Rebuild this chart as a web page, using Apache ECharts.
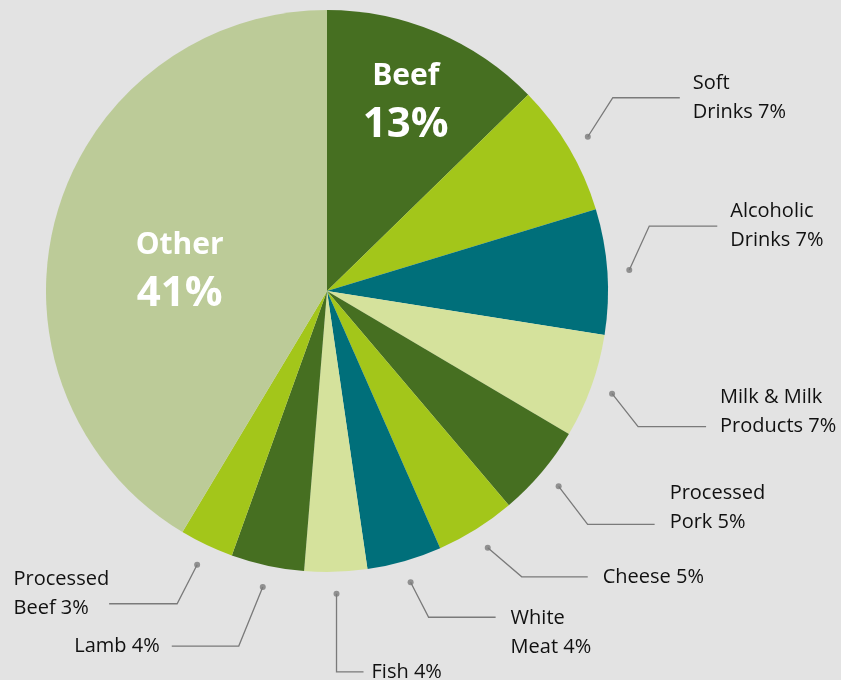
<!DOCTYPE html>
<html>
<head>
<meta charset="utf-8">
<script src="https://cdn.jsdelivr.net/npm/echarts@6/dist/echarts.min.js"></script>
<style>
html,body{margin:0;padding:0;background:#e3e3e3;}
#chart{width:841px;height:680px;}
</style>
</head>
<body>
<div id="chart"></div>
<script>
// ---- data ----
const categories = ['Beef','Soft Drinks','Alcoholic Drinks','Milk & Milk Products','Processed Pork','Cheese','White Meat','Fish','Lamb','Processed Beef','Other'];
const labelNames = ['Beef','Soft\nDrinks','Alcoholic\nDrinks','Milk & Milk\nProducts','Processed\nPork','Cheese','White\nMeat','Fish','Lamb','Processed\nBeef','Other'];
const shares = [12.7, 7.6, 7.2, 6.0, 5.3, 4.6, 4.3, 3.6, 4.2, 3.1, 41.4];
const shareLabels = ['13%','7%','7%','7%','5%','5%','4%','4%','4%','3%','41%'];

// ---- styling / layout ----
const COLORS = ['#466f21','#a3c61a','#006f7a','#d5e29c','#466f21','#a3c61a','#006f7a','#d5e29c','#466f21','#a3c61a','#bccb98'];
const CX = 327, CY = 291, R = 281, R_DOT = 303;
const FONT = "'Open Sans', 'Noto Sans', sans-serif";
const innerShift = [[23,-56],null,null,null,null,null,null,null,null,null,[-9,19]];
const leaderBend = [null,[25,-39],[20,-44],[26,33],[29,38],[34,29],[18,35],[0,78],[-24,59],[-20,39],null];
const leaderLen  = [0,67,68,68,67,66,67,27,67,68,0];
const labelSide  = [0,1,1,1,1,1,1,1,-1,-1,0];
const textGap    = [0,13,13,14,15,15,15,8,12,0,0];
const textShiftY = [0,0,0,-15,-17,0,16,0,0,-10,0];
const leftBlock  = [false,false,false,false,false,false,false,false,false,true,false];

const total = shares.reduce((a,b)=>a+b,0);
const mids = [];
let acc = 0;
shares.forEach(v => { mids.push(acc + v/2); acc += v; });

const chart = echarts.init(document.getElementById('chart'), null, {renderer:'canvas'});
chart.setOption({
  backgroundColor: '#e3e3e3',
  animation: false,
  polar: { center: [CX, CY], radius: R_DOT },
  angleAxis: { type:'value', min:0, max: total, startAngle: 90, clockwise: true, show:false },
  radiusAxis: { type:'value', min:0, max:1, show:false },
  series: [
    {
      type: 'pie',
      center: [CX, CY],
      radius: R,
      startAngle: 90,
      clockwise: true,
      avoidLabelOverlap: false,
      silent: true,
      emphasis: { disabled: true },
      data: categories.map((c,i)=>({
        name: c, value: shares[i],
        itemStyle: { color: COLORS[i] },
        label: { show: innerShift[i] != null }
      })),
      label: {
        position: 'inside',
        formatter: p => '{n|' + labelNames[p.dataIndex] + '}\n{p|' + shareLabels[p.dataIndex] + '}',
        rich: {
          n: { fontFamily: FONT, fontWeight: 'bold', fontSize: 30, color: '#ffffff', lineHeight: 44, align:'center' },
          p: { fontFamily: FONT, fontWeight: 'bold', fontSize: 42, color: '#ffffff', lineHeight: 52, align:'center' }
        }
      },
      labelLine: { show: false },
      labelLayout: p => {
        const s = innerShift[p.dataIndex];
        return s ? { dx: s[0], dy: s[1] } : {};
      }
    },
    {
      type: 'pie',
      center: [CX, CY],
      radius: R_DOT,
      startAngle: 90,
      clockwise: true,
      avoidLabelOverlap: false,
      silent: true,
      z: 1,
      emphasis: { disabled: true },
      itemStyle: { color: 'rgba(0,0,0,0)' },
      data: categories.map((c,i)=>({
        name: c, value: shares[i],
        label: { show: leaderBend[i] != null },
        labelLine: { show: leaderBend[i] != null }
      })),
      label: {
        position: 'outside',
        formatter: p => labelNames[p.dataIndex] + ' ' + shareLabels[p.dataIndex],
        fontFamily: FONT, fontSize: 20, lineHeight: 29, color: '#111111'
      },
      labelLine: { show: true, length: 20, length2: 40, lineStyle: { color: '#7a7a7a', width: 1.3 } },
      labelLayout: p => {
        const i = p.dataIndex;
        const b = leaderBend[i];
        if (!b) return {};
        let a;
        if (p.labelLinePoints && p.labelLinePoints[0]) {
          a = p.labelLinePoints[0];
        } else {
          const ang = (90 - mids[i]/total*360) * Math.PI/180;
          a = [CX + R_DOT*Math.cos(ang), CY - R_DOT*Math.sin(ang)];
        }
        const side = labelSide[i];
        const p1 = [a[0] + b[0], a[1] + b[1]];
        const p2 = [p1[0] + side*leaderLen[i], p1[1]];
        let x, align;
        if (side > 0) { x = p2[0] + textGap[i]; align = 'left'; }
        else if (leftBlock[i]) { x = p2[0] - textGap[i] - p.labelRect.width; align = 'left'; }
        else { x = p2[0] - textGap[i]; align = 'right'; }
        return { x: x, y: p2[1] + textShiftY[i], align: align, verticalAlign: 'middle', labelLinePoints: [a, p1, p2] };
      }
    },
    {
      type: 'scatter',
      coordinateSystem: 'polar',
      silent: true,
      symbol: 'circle',
      symbolSize: 6,
      itemStyle: { color: '#7a7a7a' },
      data: mids.map((m,i)=> leaderBend[i] ? [1, m] : null).filter(d => d)
    }
  ]
});
</script>
</body>
</html>
